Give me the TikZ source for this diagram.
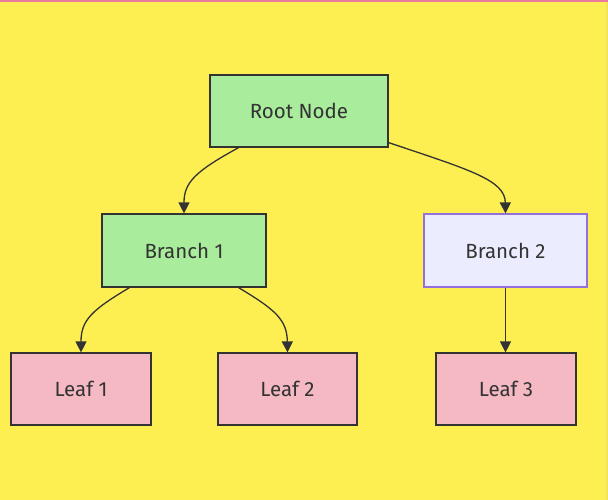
\documentclass[tikz,border=0pt]{standalone}
\usepackage{fontspec}
\setmainfont{Fira Sans}
\usetikzlibrary{arrows.meta,calc}
\definecolor{bgyellow}{HTML}{FDEF51}
\definecolor{edgeyellow}{HTML}{EFE45A}
\definecolor{topline}{HTML}{E97A9E}
\definecolor{greenfill}{HTML}{A8EC9C}
\definecolor{pinkfill}{HTML}{F5B9C3}
\definecolor{lavfill}{HTML}{ECECFF}
\definecolor{lavdraw}{HTML}{9370DB}
\definecolor{ink}{HTML}{333333}
\tikzset{
  box/.style={rectangle, draw=ink, line width=1.2pt, inner sep=0pt, text=ink,
    font=\fontsize{20.5}{22}\selectfont},
  greenbox/.style={box, fill=greenfill},
  pinkbox/.style={box, fill=pinkfill},
  lavbox/.style={box, fill=lavfill, draw=lavdraw},
  link/.style={draw=ink, line width=1.3pt, -{Triangle[length=11pt,width=11pt]}},
}
\begin{document}
\begin{tikzpicture}[x=1pt,y=-1pt]
\useasboundingbox (0,0) rectangle (608,500);
\fill[bgyellow] (0,0) rectangle (608,500);
\fill[edgeyellow] (605.5,0) rectangle (608,500);
\fill[topline] (0,0) rectangle (608,2);
\node[greenbox, minimum width=178pt, minimum height=72pt] (root) at (299,111) {Root Node};
\node[greenbox, minimum width=164pt, minimum height=73pt] (b1) at (184,250.5) {Branch 1};
\node[lavbox, minimum width=163pt, minimum height=73pt] (b2) at (505.5,250.5) {Branch 2};
\node[pinkbox, minimum width=140pt, minimum height=72pt] (l1) at (81,389) {Leaf 1};
\node[pinkbox, minimum width=139pt, minimum height=72pt] (l2) at (287.5,389) {Leaf 2};
\node[pinkbox, minimum width=140pt, minimum height=72pt] (l3) at (506,389) {Leaf 3};
\draw[link] ($(root.south west)!0.163!(root.south east)$) .. controls (196,171) and (184,182) .. (b1.north);
\draw[link] ($(root.south east)+(0,-5)$) .. controls (470,170) and (505,180) .. (b2.north);
\draw[link] ($(b1.south west)!0.17!(b1.south east)$) .. controls (92,310) and (81,320) .. (l1.north);
\draw[link] ($(b1.south west)!0.83!(b1.south east)$) .. controls (276,310) and (287,320) .. (l2.north);
\draw[link] (b2.south) -- (l3.north -| b2.south);
\end{tikzpicture}
\end{document}
